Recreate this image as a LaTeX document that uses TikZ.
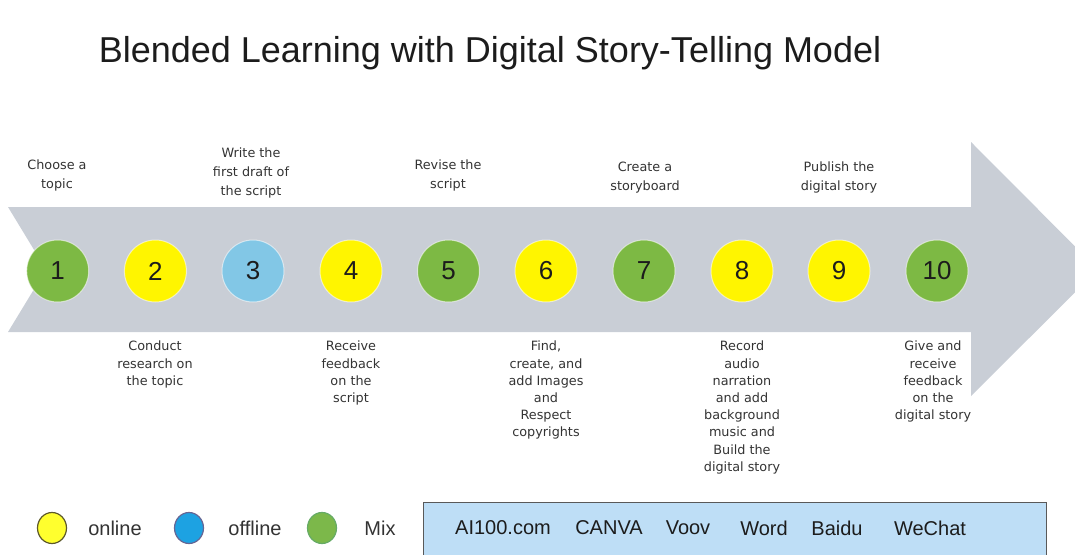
\documentclass[tikz,border=0pt]{standalone}
\usepackage{fontspec}
\setmainfont{Liberation Sans}
\newfontfamily\labelfont{DejaVu Sans}
\usetikzlibrary{shapes.geometric}

\definecolor{arrowgrey}{HTML}{C9CED6}
\definecolor{mixgreen}{HTML}{7DB944}
\definecolor{onyellow}{HTML}{FFF500}
\definecolor{offblue}{HTML}{82C7E6}
\definecolor{legyellow}{HTML}{FFFF2E}
\definecolor{legblue}{HTML}{1DA2E2}
\definecolor{leggreen}{HTML}{7CB84A}
\definecolor{boxblue}{HTML}{BEDEF6}
\definecolor{inkdark}{HTML}{1C1C1C}
\definecolor{labelgrey}{HTML}{333333}

\begin{document}
\begin{tikzpicture}[x=1pt,y=-1pt,
  stepcircle/.style={circle,minimum size=62pt,inner sep=0pt,
    draw=white,draw opacity=0.55,line width=1pt,text=inkdark,
    font=\fontsize{26}{30}\selectfont},
  toplabel/.style={anchor=south,align=center,text=labelgrey,inner sep=0pt,
    font=\labelfont\fontsize{12.8}{19}\selectfont},
  botlabel/.style={anchor=north,align=center,text=labelgrey,inner sep=0pt,
    font=\labelfont\fontsize{12.8}{17.2}\selectfont},
  legdot/.style={ellipse,minimum width=29pt,minimum height=31pt,inner sep=0pt,line width=1.2pt},
  legtext/.style={text=labelgrey,font=\fontsize{20}{24}\selectfont,inner sep=0pt},
  tooltext/.style={text=inkdark,font=\fontsize{20}{24}\selectfont,inner sep=0pt}
]
\useasboundingbox (0,0) rectangle (1075,554);
\clip (0,0) rectangle (1075,554);

% title
\node[anchor=base,text=inkdark,font=\fontsize{36}{42}\selectfont,inner sep=0pt]
  (title) at (490,62) {Blended Learning with Digital Story-Telling Model};

% big process arrow
\fill[arrowgrey] (8,207) -- (971,207) -- (971,142) -- (1098,269.5)
  -- (971,396) -- (971,332) -- (8,332) -- (46,269.5) -- cycle;

% numbered steps
\node[stepcircle,fill=mixgreen] (c1)  at (57.7,271) {1};
\node[stepcircle,fill=onyellow] (c2)  at (155.4,271) {2};
\node[stepcircle,fill=offblue]  (c3)  at (253,271) {3};
\node[stepcircle,fill=onyellow] (c4)  at (351,271) {4};
\node[stepcircle,fill=mixgreen] (c5)  at (448.5,271) {5};
\node[stepcircle,fill=onyellow] (c6)  at (546,271) {6};
\node[stepcircle,fill=mixgreen] (c7)  at (644,271) {7};
\node[stepcircle,fill=onyellow] (c8)  at (742,271) {8};
\node[stepcircle,fill=onyellow] (c9)  at (839,271) {9};
\node[stepcircle,fill=mixgreen] (c10) at (937,271) {10};

% step descriptions above the arrow
\node[toplabel] (t1) at (57,191)  {Choose a\\topic};
\node[toplabel] (t3) at (251,198) {Write the\\first draft of\\the script};
\node[toplabel] (t5) at (448,191) {Revise the\\script};
\node[toplabel] (t7) at (645,193) {Create a\\storyboard};
\node[toplabel] (t9) at (839,193) {Publish the\\digital story};

% step descriptions below the arrow
\node[botlabel] (b2)  at (155,341) {Conduct\\research on\\the topic};
\node[botlabel] (b4)  at (351,341) {Receive\\feedback\\on the\\script};
\node[botlabel] (b6)  at (546,341) {Find,\\create, and\\add Images\\and\\Respect\\copyrights};
\node[botlabel] (b8)  at (742,341) {Record\\audio\\narration\\and add\\background\\music and\\Build the\\digital story};
\node[botlabel] (b10) at (933,341) {Give and\\receive\\feedback\\on the\\digital story};

% legend
\node[legdot,fill=legyellow,draw=black!45!olive] (lon) at (52,528) {};
\node[legtext] (lontext) at (115,528) {online};
\node[legdot,fill=legblue,draw=black!70!blue!60] (loff) at (189,528) {};
\node[legtext] (lofftext) at (255,528) {offline};
\node[legdot,fill=leggreen,draw=black!55!green!60] (lmix) at (322,528) {};
\node[legtext] (lmixtext) at (380,528) {Mix};

% tools box
\node[anchor=north west,draw=black!65,line width=1.2pt,fill=boxblue,
  minimum width=623pt,minimum height=80pt,inner sep=0pt] (tools) at (423,502) {};
\node[tooltext] (w1) at (503,528) {AI100.com};
\node[tooltext] (w2) at (609,528) {CANVA};
\node[tooltext] (w3) at (688,528) {Voov};
\node[tooltext] (w4) at (764,528) {Word};
\node[tooltext] (w5) at (837,528) {Baidu};
\node[tooltext] (w6) at (930,528) {WeChat};
\end{tikzpicture}
\end{document}
